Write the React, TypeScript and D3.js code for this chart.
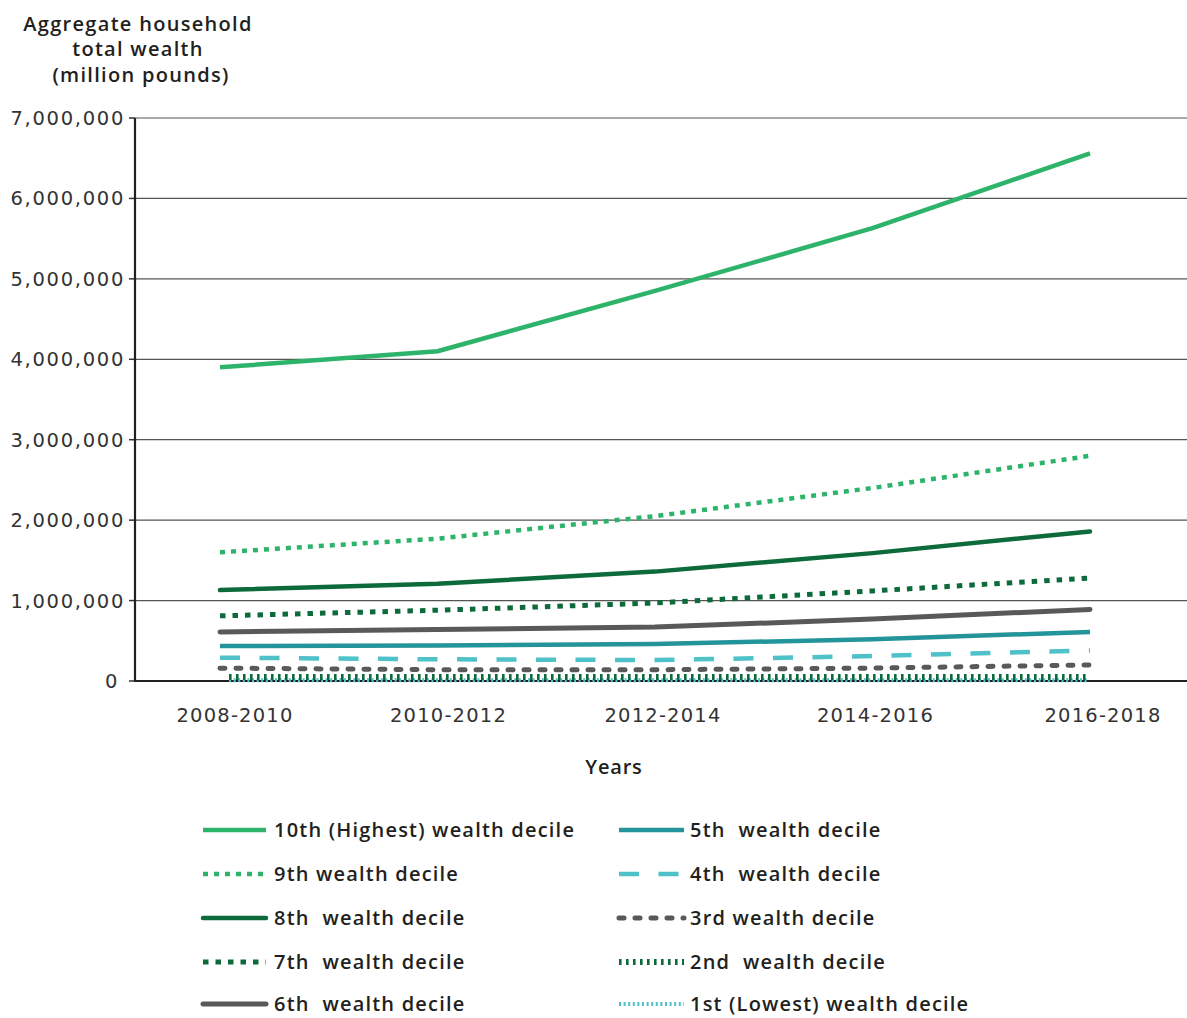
import React from "react";
import * as d3 from "d3";

const periods = ["2008-2010", "2010-2012", "2012-2014", "2014-2016", "2016-2018"];
const yTicks = [0, 1000000, 2000000, 3000000, 4000000, 5000000, 6000000, 7000000];

const d10 = [3900000, 4100000, 4850000, 5630000, 6560000];
const d9 = [1600000, 1770000, 2050000, 2400000, 2800000];
const d8 = [1130000, 1210000, 1360000, 1590000, 1860000];
const d7 = [810000, 880000, 970000, 1120000, 1280000];
const d6 = [610000, 640000, 670000, 770000, 890000];
const d5 = [435000, 440000, 460000, 520000, 610000];
const d4 = [290000, 270000, 260000, 310000, 380000];
const d3v = [160000, 140000, 140000, 160000, 200000];
const d2 = [50000, 50000, 50000, 50000, 50000];
const d1 = [10000, 10000, 10000, 10000, 10000];

const seriesNames = [
  "10th (Highest) wealth decile",
  "9th wealth decile",
  "8th  wealth decile",
  "7th  wealth decile",
  "6th  wealth decile",
  "5th  wealth decile",
  "4th  wealth decile",
  "3rd wealth decile",
  "2nd  wealth decile",
  "1st (Lowest) wealth decile",
];
const seriesValues = [d10, d9, d8, d7, d6, d5, d4, d3v, d2, d1];

type Style = { color: string; width: number; dash?: string; cap?: string };
const styles: Style[] = [
  { color: "#2db46a", width: 4.5 },
  { color: "#2db46a", width: 4.5, dash: "5,6" },
  { color: "#0d6a3a", width: 4.5, cap: "round" },
  { color: "#0d6a3a", width: 5, dash: "5.5,7" },
  { color: "#58595b", width: 5, cap: "round" },
  { color: "#23949a", width: 4.5 },
  { color: "#4fc1c8", width: 4.5, dash: "20,19.5" },
  { color: "#58595b", width: 5, dash: "5,11", cap: "round" },
  { color: "#0d6a3a", width: 6, dash: "2.6,4.4" },
  { color: "#4fc1c8", width: 4, dash: "2,2.6" },
];

const W = 1187;
const H = 1018;
const left = 135;
const right = 1187;
const top = 118;
const bottom = 681;

export default function App() {
  const x = d3.scalePoint<string>().domain(periods).range([220, 1090]);
  const y = d3.scaleLinear().domain([0, 7000000]).range([bottom, top]);
  const fmt = d3.format(",");
  const medFont = "'Open Sans', sans-serif";
  const tickFont = "'DejaVu Sans', sans-serif";
  const txt = "#231f20";

  const legendCols = [
    { sx: 203, ex: 266, tx: 274 },
    { sx: 619, ex: 684, tx: 690 },
  ];
  const legendRows = [830, 874, 918, 962, 1004];

  return (
    <svg width={W} height={H} style={{ position: "absolute", left: 0, top: 0, background: "#fff" }} fontFamily={medFont}>
      <rect x={0} y={0} width={W} height={H} fill="#fff" />
      <text fill={txt} fontSize={20} fontWeight={600} textAnchor="middle" letterSpacing={1.3}>
        <tspan x={138} y={31}>Aggregate household</tspan>
        <tspan x={138} y={56}>total wealth</tspan>
        <tspan x={141} y={82}>(million pounds)</tspan>
      </text>
      {yTicks.map((t) => (
        <g key={t}>
          {t > 0 && <line x1={left} x2={right} y1={y(t)} y2={y(t)} stroke="#555" strokeWidth={1.2} />}
          <line x1={left - 6} x2={left} y1={y(t)} y2={y(t)} stroke="#333" strokeWidth={1.5} />
          <text x={t === 0 ? 119 : 125} y={y(t) + 7} textAnchor="end" fontSize={19.5} fill="#333" fontFamily={tickFont} letterSpacing={1.7}>
            {fmt(t)}
          </text>
        </g>
      ))}
      <line x1={left} x2={left} y1={top} y2={bottom + 1} stroke="#231f20" strokeWidth={2.2} />
      <line x1={left - 1} x2={right} y1={bottom} y2={bottom} stroke="#231f20" strokeWidth={2.2} />
      {periods.map((p, i) => (
        <text key={p} x={(x(p) as number) + [15, 11, 8, 3, 13][i]} y={722} textAnchor="middle" fontSize={19.5} fill="#333" fontFamily={tickFont} letterSpacing={1.2}>
          {p}
        </text>
      ))}
      <text x={614} y={774} textAnchor="middle" fontSize={20} fill={txt} fontWeight={600} letterSpacing={0.8}>
        Years
      </text>
      {seriesValues
        .map((vals, i) => ({ vals, i }))
        .reverse()
        .map(({ vals, i }) => {
          const s = styles[i];
          const lowOffset = i >= 8 ? 9 : 0;
          const ln = d3
            .line<number>()
            .x((_, k) => (x(periods[k]) as number) + (k === 0 ? lowOffset : k === 4 && i >= 8 ? -3 : 0))
            .y((v) => y(v))
            .curve(d3.curveLinear);
          return (
            <path
              key={i}
              d={ln(vals) || ""}
              fill="none"
              stroke={s.color}
              strokeWidth={s.width}
              strokeDasharray={s.dash}
              strokeLinecap={(s.cap as any) || "butt"}
              strokeLinejoin="round"
            />
          );
        })}
      {seriesNames.map((name, i) => {
        const col = legendCols[i < 5 ? 0 : 1];
        const yy = legendRows[i % 5];
        const s = styles[i];
        return (
          <g key={name}>
            <line
              x1={col.sx}
              x2={col.ex}
              y1={yy}
              y2={yy}
              stroke={s.color}
              strokeWidth={s.width}
              strokeDasharray={s.dash}
              strokeLinecap={(s.cap as any) || "butt"}
            />
            <text x={col.tx} y={yy + 7} fontSize={20} fill={txt} fontWeight={600} letterSpacing={1.2} style={{ whiteSpace: "pre" }}>
              {name}
            </text>
          </g>
        );
      })}
    </svg>
  );
}
